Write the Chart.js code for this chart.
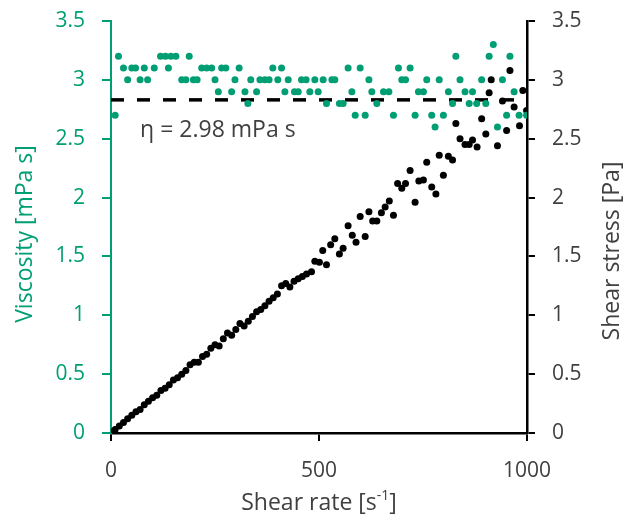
<!DOCTYPE html>
<html>
<head>
<meta charset="utf-8">
<script src="https://cdn.jsdelivr.net/npm/chart.js@4.4.1/dist/chart.umd.min.js"></script>
<style>
    html, body { margin: 0; padding: 0; background: #fff; }
</style>
</head>
<body>
<canvas id="chart" width="627" height="517"></canvas>
<script>
// Viscosity [mPa s] against shear rate [1/s] (green points)
const viscRate = [10, 18, 30, 40, 50, 59, 70, 80, 88, 104, 119, 131, 138, 144, 156, 170, 180, 188, 198, 207,
    218, 230, 242, 250, 258, 266, 276, 290, 298, 308, 322, 329, 336, 350, 358, 370, 380, 389, 401, 410,
    418, 426, 441, 450, 458, 469, 478, 490, 498, 510, 518, 531, 538, 549, 558, 570, 579, 587, 599, 611,
    620, 627, 639, 655, 668, 679, 691, 699, 708, 719, 731, 739, 751, 759, 771, 779, 789, 799, 811, 821,
    829, 839, 851, 861, 869, 879, 891, 901, 909, 919, 929, 941, 951, 959, 969, 981, 999];
const viscosity = [2.7, 3.2, 3.1, 3.0, 3.1, 3.1, 3.0, 3.1, 3.0, 3.1, 3.2, 3.2, 3.1, 3.2, 3.2, 3.0, 3.0, 3.2, 3.0, 3.0,
    3.1, 3.1, 3.1, 3.0, 2.9, 3.1, 3.1, 2.9, 3.0, 3.1, 2.9, 2.8, 3.0, 2.9, 3.0, 3.0, 3.0, 3.1, 3.0, 3.1,
    2.9, 3.0, 2.9, 2.9, 3.0, 3.0, 2.9, 3.0, 2.9, 3.0, 2.8, 3.0, 3.0, 2.8, 2.8, 3.1, 2.9, 2.7, 3.1, 2.7,
    3.0, 2.9, 2.8, 2.9, 2.9, 2.7, 3.1, 3.0, 3.0, 3.1, 2.7, 2.9, 2.9, 3.0, 2.7, 2.6, 3.0, 2.7, 2.9, 2.8,
    3.2, 3.0, 2.9, 2.8, 2.9, 2.8, 3.0, 2.8, 3.2, 3.3, 2.6, 3.0, 2.7, 3.2, 2.9, 2.7, 2.7];

// Shear stress [Pa] against shear rate [1/s] (black points)
const stressRate = [3, 10, 20, 30, 40, 50, 60, 70, 80, 90, 100, 110, 120, 130, 140, 150, 160, 170, 180, 190,
    200, 210, 220, 230, 240, 250, 260, 270, 280, 290, 300, 310, 320, 330, 340, 350, 360, 370, 380, 390,
    400, 410, 420, 430, 440, 450, 460, 470, 482, 490, 501, 509, 518, 528, 538, 549, 558, 570, 580, 589,
    599, 611, 620, 629, 639, 650, 659, 669, 679, 689, 699, 708, 719, 731, 740, 751, 759, 771, 781, 789,
    799, 811, 821, 829, 839, 851, 861, 869, 880, 891, 901, 909, 914, 929, 941, 951, 959, 969, 982, 990, 999];
const shearStress = [0.01, 0.03, 0.06, 0.09, 0.12, 0.15, 0.18, 0.2, 0.24, 0.27, 0.3, 0.32, 0.36, 0.38, 0.41, 0.45, 0.47, 0.5, 0.53, 0.58,
    0.6, 0.6, 0.65, 0.67, 0.72, 0.75, 0.74, 0.8, 0.85, 0.83, 0.88, 0.93, 0.91, 0.95, 0.99, 1.03, 1.05, 1.08, 1.12, 1.15,
    1.18, 1.25, 1.27, 1.24, 1.29, 1.31, 1.33, 1.35, 1.37, 1.46, 1.45, 1.55, 1.43, 1.6, 1.65, 1.52, 1.57, 1.76, 1.68, 1.62,
    1.84, 1.67, 1.88, 1.8, 1.8, 1.87, 1.92, 1.97, 1.85, 2.12, 2.08, 2.12, 2.23, 1.96, 2.14, 2.15, 2.3, 2.09, 2.03, 2.36,
    2.19, 2.35, 2.32, 2.63, 2.5, 2.45, 2.45, 2.49, 2.43, 2.67, 2.54, 2.89, 3.0, 2.44, 2.82, 2.57, 3.08, 2.77, 2.61, 2.91, 2.74];

// mean viscosity line (dashed)
const fitRate = [0, 1000];
const fitViscosity = [2.83, 2.83];

const xTicks = [0, 500, 1000];
const yTicks = [0, 0.5, 1, 1.5, 2, 2.5, 3, 3.5];

const GREEN = "#009E73";
const DARK = "#404040";
const FONT = "'Open Sans', sans-serif";

function toPoints(xs, ys) {
    return xs.map((x, i) => ({ x: x, y: ys[i] }));
}

// axis titles and the eta label
const textPlugin = {
    id: "texts",
    afterDraw(chart) {
        const ctx = chart.ctx;
        const area = chart.chartArea;
        const xs = chart.scales.x;
        const ys = chart.scales.y;
        ctx.save();

        ctx.font = "23px " + FONT;
        ctx.fillStyle = DARK;
        ctx.textAlign = "left";
        ctx.textBaseline = "middle";
        ctx.fillText("\u03B7 = 2.98 mPa s", xs.getPixelForValue(70), ys.getPixelForValue(2.57));

        // left title
        ctx.save();
        ctx.translate(25, 234);
        ctx.rotate(-Math.PI / 2);
        ctx.textAlign = "center";
        ctx.fillStyle = GREEN;
        ctx.fillText("Viscosity [mPa s]", 0, 0);
        ctx.restore();

        // right title
        ctx.save();
        ctx.translate(612, 251);
        ctx.rotate(-Math.PI / 2);
        ctx.textAlign = "center";
        ctx.fillStyle = DARK;
        ctx.fillText("Shear stress [Pa]", 0, 0);
        ctx.restore();

        // bottom title with superscript
        const a = "Shear rate [s", sup = "-1", b = "]";
        ctx.font = "23px " + FONT;
        const wa = ctx.measureText(a).width, wb = ctx.measureText(b).width;
        ctx.font = "14px " + FONT;
        const ws = ctx.measureText(sup).width;
        let x = (area.left + area.right) / 2 - (wa + ws + wb) / 2;
        const y = 503;
        ctx.textAlign = "left";
        ctx.font = "23px " + FONT;
        ctx.fillText(a, x, y);
        x += wa;
        ctx.font = "14px " + FONT;
        ctx.fillText(sup, x, y - 7);
        x += ws;
        ctx.font = "23px " + FONT;
        ctx.fillText(b, x, y);

        ctx.restore();
    }
};

function fitY(width) {
    return s => {
        s.width = width;
        s.paddingTop = 0;
        s.paddingBottom = 0;
    };
}

const ctx = document.getElementById("chart").getContext("2d");
new Chart(ctx, {
    type: "scatter",
    data: {
        datasets: [
            {
                label: "Viscosity",
                data: toPoints(viscRate, viscosity),
                backgroundColor: GREEN,
                borderColor: GREEN,
                pointRadius: 3.5,
                pointBorderWidth: 0,
                yAxisID: "y",
                order: 1
            },
            {
                label: "Shear stress",
                data: toPoints(stressRate, shearStress),
                backgroundColor: "#000",
                borderColor: "#000",
                pointRadius: 3.5,
                pointBorderWidth: 0,
                yAxisID: "y2",
                order: 2
            },
            {
                label: "Mean viscosity",
                type: "line",
                data: toPoints(fitRate, fitViscosity),
                borderColor: "#000",
                borderWidth: 3.5,
                borderDash: [13, 13],
                pointRadius: 0,
                fill: false,
                yAxisID: "y",
                order: 3
            }
        ]
    },
    options: {
        responsive: false,
        animation: false,
        events: [],
        layout: { padding: { top: 21, left: 0, right: 0, bottom: 0 } },
        plugins: {
            legend: { display: false },
            tooltip: { enabled: false }
        },
        scales: {
            x: {
                type: "linear",
                min: 0,
                max: 1000,
                afterBuildTicks: s => { s.ticks = xTicks.map(v => ({ value: v })); },
                afterFit: s => { s.height = 84; s.paddingLeft = 0; s.paddingRight = 0; },
                border: { color: "#000", width: 2.5 },
                grid: { drawOnChartArea: false, drawTicks: true, tickLength: 8, color: "#000", lineWidth: 2 },
                ticks: { color: DARK, font: { family: FONT, size: 21 }, padding: 17, maxRotation: 0, callback: v => String(v) }
            },
            y: {
                type: "linear",
                position: "left",
                min: 0,
                max: 3.5,
                afterBuildTicks: s => { s.ticks = yTicks.map(v => ({ value: v })); },
                afterFit: fitY(111),
                border: { color: GREEN, width: 2 },
                grid: { drawOnChartArea: false, drawTicks: true, tickLength: 9, color: GREEN, lineWidth: 2 },
                ticks: { color: GREEN, font: { family: FONT, size: 21 }, padding: 17, callback: v => String(v) }
            },
            y2: {
                type: "linear",
                position: "right",
                min: 0,
                max: 3.5,
                afterBuildTicks: s => { s.ticks = yTicks.map(v => ({ value: v })); },
                afterFit: fitY(100),
                border: { color: "#000", width: 2.5 },
                grid: { drawOnChartArea: false, drawTicks: true, tickLength: 8, color: "#000", lineWidth: 2 },
                ticks: { color: DARK, font: { family: FONT, size: 21 }, padding: 17, callback: v => String(v) }
            }
        }
    },
    plugins: [textPlugin]
});
</script>
</body>
</html>
